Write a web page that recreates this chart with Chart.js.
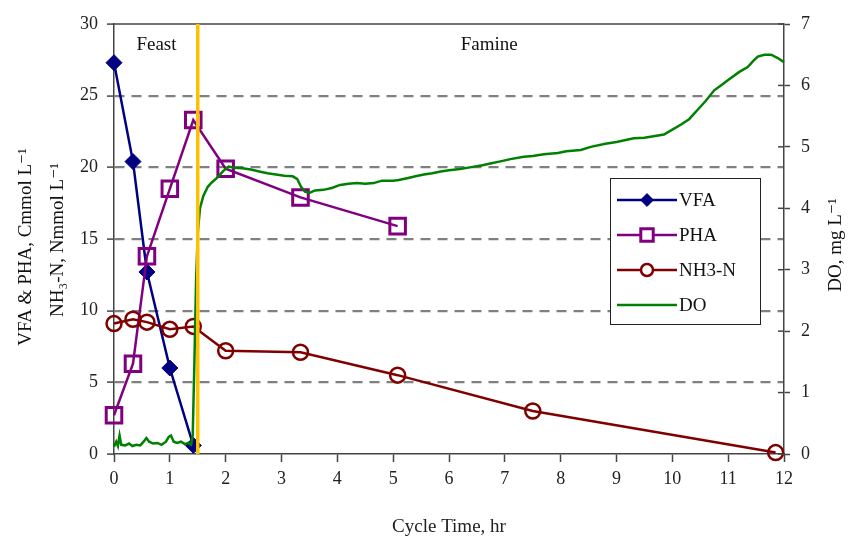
<!DOCTYPE html>
<html>
<head>
<meta charset="utf-8">
<script src="https://cdn.jsdelivr.net/npm/chart.js@4/dist/chart.umd.min.js"></script>
<style>
	html, body { margin: 0; padding: 0; background: #fff; }
	#wrap { width: 856px; height: 542px; }
</style>
</head>
<body>
<div id="wrap"><canvas id="cycle_chart" width="856" height="542"></canvas></div>
<script>
// cycle time, hr
const vfaTime = [0, 0.34, 0.59, 1.0, 1.42];
const vfaValues = [27.3, 20.4, 12.7, 6.0, 0.6];
const phaTime = [0, 0.34, 0.59, 1.0, 1.42, 2.0, 3.34, 5.08];
const phaValues = [2.7, 6.3, 13.8, 18.5, 23.3, 19.9, 17.9, 15.9];
const nh3Time = [0, 0.34, 0.59, 1.0, 1.42, 2.0, 3.34, 5.08, 7.5, 11.85];
const nh3Values = [9.1, 9.4, 9.2, 8.7, 8.9, 7.2, 7.1, 5.5, 3.0, 0.1];
// DO probe trace, mg/L
const doTime = [0, 0.04, 0.07, 0.1, 0.13, 0.2, 0.27, 0.33, 0.4, 0.47, 0.53, 0.58, 0.63, 0.7, 0.78, 0.85, 0.93, 0.98, 1.02, 1.07,
	1.13, 1.2, 1.27, 1.33, 1.38, 1.41, 1.44, 1.47, 1.5, 1.54, 1.6, 1.68, 1.75, 1.85, 1.95, 2.05, 2.15, 2.3, 2.45, 2.6,
	2.75, 2.9, 3.05, 3.2, 3.28, 3.35, 3.42, 3.5, 3.6, 3.75, 3.9, 4.05, 4.2, 4.35, 4.5, 4.65, 4.8, 5.0, 5.1, 5.25,
	5.4, 5.55, 5.7, 5.85, 6.0, 6.2, 6.4, 6.6, 6.74, 6.9, 7.1, 7.34, 7.5, 7.7, 7.95, 8.1, 8.36, 8.54, 8.8, 9.0,
	9.31, 9.5, 9.85, 10.0, 10.15, 10.3, 10.45, 10.6, 10.75, 10.9, 11.0, 11.2, 11.35, 11.45, 11.53, 11.65, 11.77, 11.88, 12.0];
const doValues = [0.12, 0.2, 0.13, 0.3, 0.15, 0.14, 0.17, 0.13, 0.15, 0.14, 0.2, 0.26, 0.2, 0.17, 0.18, 0.15, 0.2, 0.28, 0.3, 0.2,
	0.18, 0.2, 0.16, 0.18, 0.15, 0.3, 1.5, 2.8, 3.6, 4.0, 4.2, 4.35, 4.42, 4.5, 4.6, 4.68, 4.66, 4.65, 4.63, 4.6,
	4.57, 4.55, 4.53, 4.52, 4.48, 4.35, 4.27, 4.25, 4.29, 4.3, 4.33, 4.38, 4.4, 4.41, 4.4, 4.41, 4.45, 4.45, 4.46, 4.49,
	4.52, 4.55, 4.57, 4.6, 4.62, 4.64, 4.67, 4.7, 4.73, 4.76, 4.8, 4.84, 4.85, 4.88, 4.9, 4.93, 4.95, 5.0, 5.05, 5.08,
	5.14, 5.15, 5.2, 5.28, 5.36, 5.45, 5.6, 5.75, 5.92, 6.02, 6.09, 6.22, 6.3, 6.4, 6.47, 6.5, 6.5, 6.45, 6.38];
const xTicks = [0, 1, 2, 3, 4, 5, 6, 7, 8, 9, 10, 11, 12];
const leftTicks = [0, 5, 10, 15, 20, 25, 30];
const rightTicks = [0, 1, 2, 3, 4, 5, 6, 7];
const feastEnd = 1.5;
const phaseLabels = [['Feast', 0.76], ['Famine', 6.72]];

const serif = '"Liberation Serif", "DejaVu Serif", serif';
const pair = (xs, ys) => xs.map((x, i) => ({ x: x, y: ys[i] }));

const annotations = {
	id: 'annotations',
	afterDatasetsDraw(chart) {
		const { ctx, chartArea, scales } = chart;
		const x = scales.x, y2 = scales.y2;
		ctx.save();
		// box top
		ctx.strokeStyle = '#444';
		ctx.lineWidth = 1.5;
		ctx.beginPath();
		ctx.moveTo(chartArea.left, chartArea.top);
		ctx.lineTo(chartArea.right, chartArea.top);
		ctx.stroke();
		// inner ticks on DO axis
		rightTicks.forEach(v => {
			const py = y2.getPixelForValue(v);
			ctx.beginPath();
			ctx.moveTo(chartArea.right - 6, py);
			ctx.lineTo(chartArea.right, py);
			ctx.stroke();
		});
		// feast / famine split
		const sx = x.getPixelForValue(feastEnd);
		ctx.strokeStyle = '#FFC000';
		ctx.lineWidth = 3.5;
		ctx.beginPath();
		ctx.moveTo(sx, chartArea.top);
		ctx.lineTo(sx, chartArea.bottom);
		ctx.stroke();

		ctx.fillStyle = '#111';
		ctx.font = '19px ' + serif;
		ctx.textAlign = 'center';
		ctx.textBaseline = 'middle';
		phaseLabels.forEach(([t, v]) => ctx.fillText(t, x.getPixelForValue(v), chartArea.top + 21));

		// legend
		const lx = chartArea.right - 174, ly = chartArea.top + 154;
		ctx.fillStyle = '#fff';
		ctx.fillRect(lx, ly, 151, 147);
		ctx.strokeStyle = '#222';
		ctx.lineWidth = 1;
		ctx.strokeRect(lx + 0.5, ly + 0.5, 150, 146);
		chart.data.datasets.slice().sort((a, b) => a.legendOrder - b.legendOrder).forEach((ds, i) => {
			const ey = ly + 22 + i * 35;
			ctx.strokeStyle = ds.borderColor;
			ctx.lineWidth = ds.borderWidth;
			ctx.beginPath();
			ctx.moveTo(lx + 7, ey);
			ctx.lineTo(lx + 67, ey);
			ctx.stroke();
			if (ds.pointStyle) {
				ctx.fillStyle = ds.pointBackgroundColor === 'transparent' ? '#fff' : ds.pointBackgroundColor;
				ctx.strokeStyle = ds.pointBorderColor;
				ctx.lineWidth = ds.pointBorderWidth;
				Chart.helpers.drawPoint(ctx, {
					pointStyle: ds.pointStyle,
					radius: ds.pointRadius * 0.8,
					borderWidth: ds.pointBorderWidth
				}, lx + 37, ey);
			}
			ctx.fillStyle = '#111';
			ctx.textAlign = 'left';
			ctx.fillText(ds.label, lx + 69, ey + 1);
		});

		// axis titles drawn rotated, reading bottom to top
		const rot = (text, cx, cy) => {
			ctx.save();
			ctx.translate(cx, cy);
			ctx.rotate(-Math.PI / 2);
			ctx.fillText(text, 0, 0);
			ctx.restore();
		};
		ctx.fillStyle = '#111';
		ctx.textAlign = 'center';
		ctx.font = '19px ' + serif;
		rot('VFA & PHA, Cmmol L\u207B\u00B9', 26, 247);
		rot('NH\u2083-N, Nmmol L\u207B\u00B9', 58, 240);
		rot('DO, mg L\u207B\u00B9', 836, 245);
		ctx.restore();
	}
};

new Chart(document.getElementById('cycle_chart'), {
	type: 'line',
	data: {
		datasets: [
			{
				label: 'DO', legendOrder: 3, yAxisID: 'y2',
				data: pair(doTime, doValues),
				borderColor: '#008000', borderWidth: 2.5, pointRadius: 0, tension: 0
			},
			{
				label: 'NH3-N', legendOrder: 2, yAxisID: 'y',
				data: pair(nh3Time, nh3Values),
				borderColor: '#800000', borderWidth: 2.5,
				pointStyle: 'circle', pointRadius: 7.5, pointBorderWidth: 2.5,
				pointBackgroundColor: 'transparent', pointBorderColor: '#800000'
			},
			{
				label: 'PHA', legendOrder: 1, yAxisID: 'y',
				data: pair(phaTime, phaValues),
				borderColor: '#800080', borderWidth: 2.5,
				pointStyle: 'rect', pointRadius: 11, pointBorderWidth: 3,
				pointBackgroundColor: 'transparent', pointBorderColor: '#800080'
			},
			{
				label: 'VFA', legendOrder: 0, yAxisID: 'y',
				data: pair(vfaTime, vfaValues),
				borderColor: '#000080', borderWidth: 2.5,
				pointStyle: 'rectRot', pointRadius: 8, pointBorderWidth: 1,
				pointBackgroundColor: '#000080', pointBorderColor: '#000080'
			}
		]
	},
	options: {
		responsive: false,
		animation: false,
		clip: false,
		layout: { padding: { top: 24, left: 0, right: 0, bottom: 0 } },
		plugins: { legend: { display: false }, tooltip: { enabled: false } },
		scales: {
			x: {
				type: 'linear', min: 0, max: 12,
				afterBuildTicks: s => { s.ticks = xTicks.map(v => ({ value: v })); },
				afterFit: s => { s.height = 88; },
				grid: { drawOnChartArea: false, tickLength: 8, tickColor: '#444', tickWidth: 1.5 },
				border: { color: '#444', width: 1.5 },
				ticks: { color: '#222', font: { family: serif, size: 18 }, padding: 6, maxRotation: 0 },
				title: { display: true, text: 'Cycle Time, hr', color: '#222', font: { family: serif, size: 19 }, padding: { top: 15 } }
			},
			y: {
				position: 'left', min: 0, max: 30,
				afterBuildTicks: s => { s.ticks = leftTicks.map(v => ({ value: v })); },
				afterFit: s => { s.width = 114; },
				grid: {
					color: c => (c.tick && (c.tick.value === 0 || c.tick.value === 30)) ? 'rgba(0,0,0,0)' : '#808080',
					lineWidth: 2.2, tickLength: 7, tickColor: '#444', tickWidth: 1.5,
					tickBorderDash: []
				},
				border: { color: '#444', width: 1.5, dash: [10, 7] },
				ticks: { color: '#222', font: { family: serif, size: 18 }, padding: 9 }
			},
			y2: {
				position: 'right', min: 0, max: 7,
				afterBuildTicks: s => { s.ticks = rightTicks.map(v => ({ value: v })); },
				afterFit: s => { s.width = 72; },
				grid: { drawOnChartArea: false, tickLength: 6, tickColor: '#444', tickWidth: 1.5 },
				border: { color: '#444', width: 1.5 },
				ticks: { color: '#222', font: { family: serif, size: 18 }, padding: 11 }
			}
		}
	},
	plugins: [annotations]
});
</script>
</body>
</html>
